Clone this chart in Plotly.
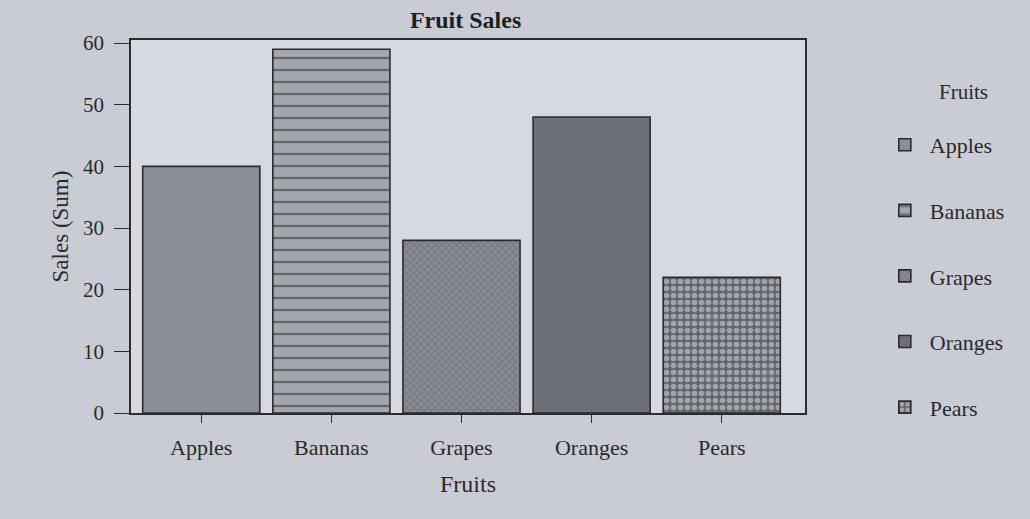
import plotly.graph_objects as go

fruits = ["Apples", "Bananas", "Grapes", "Oranges", "Pears"]
sales = [40, 59, 28, 48, 22]
y_ticks = [0, 10, 20, 30, 40, 50, 60]

fills = ["#8d8f98", "#a3a6ae", "#8a8c95", "#6e7079", "#64666e"]
shapes = ["", "-", "x", "", "."]
fgs = ["#333333", "#2a2a2a", "#5a5c63", "#333333", "#e0e2e8"]
sizes = [8, 12, 5, 8, 7]
solid = [0.3, 0.2, 0.35, 0.3, 0.5]

fig = go.Figure()
for i, f in enumerate(fruits):
    fig.add_trace(go.Bar(
        x=[f], y=[sales[i]], name=f, legendgroup=f, width=0.9,
        marker=dict(color=fills[i], line=dict(color="#2b2b2b", width=1.6),
                    pattern=dict(shape=shapes[i], fgcolor=fgs[i], bgcolor=fills[i],
                                 size=sizes[i], solidity=solid[i])),
    ))

serif = "Liberation Serif, Times New Roman, serif"
fig.update_layout(
    width=1030, height=519,
    paper_bgcolor="#c9ccd5", plot_bgcolor="#d6d9e1",
    margin=dict(l=131, r=225, t=40, b=106),
    barmode="overlay",
    font=dict(family=serif, color="#2a2a2a", size=20),
    title=dict(text="<b>Fruit Sales</b>", x=0.452, xanchor="center", y=0.962, yanchor="middle",
               font=dict(size=24, family=serif, color="#1e1e1e")),
    showlegend=True,
    legend=dict(x=1.111, xanchor="left", y=0.775, yanchor="top", tracegroupgap=34,
                bgcolor="rgba(0,0,0,0)", font=dict(size=22, family=serif), itemwidth=40),
    annotations=[dict(text="Fruits", xref="paper", yref="paper", x=1.235, y=0.86,
                      xanchor="center", yanchor="middle", showarrow=False,
                      font=dict(size=21, family=serif, color="#2a2a2a"))],
    xaxis=dict(title=dict(text="Fruits", standoff=16, font=dict(size=24, family=serif)),
               categoryorder="array", categoryarray=fruits,
               tickfont=dict(size=22, family=serif),
               showline=True, linecolor="#2b2b2b", linewidth=1.5, mirror=True,
               ticks="outside", ticklen=8, tickcolor="#2b2b2b", showgrid=False,
               ticklabelstandoff=6, range=[-0.54, 4.64]),
    yaxis=dict(title=dict(text="Sales (Sum)", standoff=8, font=dict(size=23, family=serif)),
               range=[0, 60.5], tickvals=y_ticks, tickfont=dict(size=21, family=serif),
               showline=True, linecolor="#2b2b2b", linewidth=1.5, mirror=True,
               ticks="outside", ticklen=15, tickcolor="#2b2b2b", showgrid=False, zeroline=False,
               ticklabelstandoff=6),
)

fig.write_html("out.html", config={"displayModeBar": False})
with open("out.html", encoding="utf-8") as fh:
    html = fh.read()
html = html.replace("<head>", "<head><style>html,body{margin:0;padding:0;background:#c9ccd5;}</style>", 1)
with open("out.html", "w", encoding="utf-8") as fh:
    fh.write(html)
